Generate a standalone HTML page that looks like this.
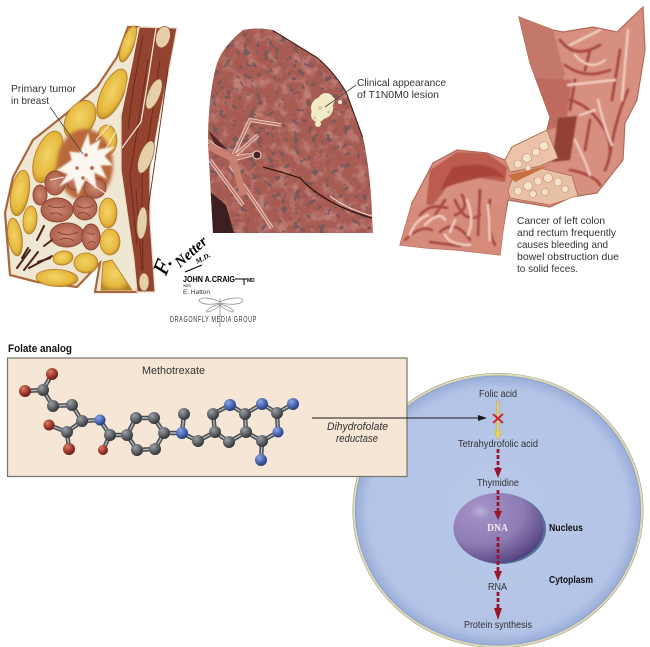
<!DOCTYPE html>
<html><head><meta charset="utf-8"><style>
html,body{margin:0;padding:0;background:#fff}
svg{display:block}
text{font-family:"Liberation Sans",sans-serif;fill:#333;font-size:10.5px}
.b{font-weight:bold;fill:#111}
</style></head><body>
<svg width="650" height="647" viewBox="0 0 650 647" xmlns="http://www.w3.org/2000/svg">
<defs>
<radialGradient id="cell" cx="50%" cy="50%" r="50%"><stop offset="0" stop-color="#b9c8e9"/><stop offset=".9" stop-color="#b3c4e6"/><stop offset=".98" stop-color="#9cb0da"/><stop offset="1" stop-color="#8297c8"/></radialGradient>
<radialGradient id="nuc" cx="30%" cy="26%" r="80%"><stop offset="0" stop-color="#bcaed6"/><stop offset=".14" stop-color="#9f8ec2"/><stop offset=".6" stop-color="#8d7bb4"/><stop offset=".9" stop-color="#64528f"/><stop offset="1" stop-color="#4f4080"/></radialGradient>
<radialGradient id="c" cx="35%" cy="30%" r="70%"><stop offset="0" stop-color="#9aa0a6"/><stop offset=".6" stop-color="#5d6266"/><stop offset="1" stop-color="#33373a"/></radialGradient>
<radialGradient id="n" cx="35%" cy="30%" r="70%"><stop offset="0" stop-color="#8ea6e6"/><stop offset=".6" stop-color="#4a68b4"/><stop offset="1" stop-color="#2a3f78"/></radialGradient>
<radialGradient id="o" cx="35%" cy="30%" r="70%"><stop offset="0" stop-color="#d5806c"/><stop offset=".6" stop-color="#a23a2c"/><stop offset="1" stop-color="#6a1f16"/></radialGradient>
<radialGradient id="fat" cx="45%" cy="45%" r="60%"><stop offset="0" stop-color="#f2d468"/><stop offset=".7" stop-color="#e6b83e"/><stop offset="1" stop-color="#b98624"/></radialGradient>
<radialGradient id="gl" cx="50%" cy="50%" r="55%"><stop offset="0" stop-color="#cf8a70"/><stop offset="1" stop-color="#a85a48"/></radialGradient>
<filter id="spk" x="0" y="0" width="100%" height="100%"><feTurbulence type="fractalNoise" baseFrequency=".16" numOctaves="3" seed="7"/><feColorMatrix values="0 0 0 0 .17  0 0 0 0 .10  0 0 0 0 .11  13 0 0 0 -7.9"/></filter>
<filter id="mot" x="0" y="0" width="100%" height="100%"><feTurbulence type="fractalNoise" baseFrequency=".09" numOctaves="3" seed="3"/><feColorMatrix values="0 0 0 0 .82  0 0 0 0 .55  0 0 0 0 .50  3 0 0 0 -1.35"/></filter>
<filter id="soft"><feGaussianBlur stdDeviation=".7"/></filter>
<filter id="blur1"><feGaussianBlur stdDeviation="1.5"/></filter>
<filter id="blur3"><feGaussianBlur stdDeviation="3"/></filter>
<clipPath id="lungc"><path d="M243 30Q258 27 273 30L317 57Q335 72 347 93L363 137Q371 175 372 217L373 233H213L208 143Q208 95 217 63Q224 45 243 30Z"/></clipPath>
<clipPath id="colc"><path d="M519 17L553 30L563 32L593 27L617 32L643 7L645 50L637 100L625 123L623 160L597 193L572 197L550 207L508 200L503 230L500 255L457 250L427 248L400 245L412 203L433 163L457 150L487 153L505 160L512 147L547 130L550 117L530 63Z"/></clipPath>
</defs>
<rect width="650" height="647" fill="#fff"/>

<!-- Breast -->
<path d="M128 27L139 27L137 292H95L100 263L77 287L37 282L10 275L5 213L13 177L33 140L67 113L97 87L117 57Z" fill="#efe7d2" stroke="#a8683c" stroke-width="2.2"/>
<g stroke="#b17a2c" stroke-width=".8" fill="url(#fat)">
<ellipse cx="128" cy="44" rx="6" ry="19" transform="rotate(20 128 44)"/>
<ellipse cx="112" cy="94" rx="11" ry="27" transform="rotate(25 112 94)"/>
<ellipse cx="80" cy="120" rx="14" ry="21" transform="rotate(30 80 120)"/>
<ellipse cx="48" cy="157" rx="13" ry="27" transform="rotate(20 48 157)"/>
<ellipse cx="20" cy="193" rx="9" ry="23" transform="rotate(10 20 193)"/>
<ellipse cx="30" cy="220" rx="7" ry="14" transform="rotate(5 30 220)"/>
<ellipse cx="15" cy="237" rx="7" ry="19" transform="rotate(-8 15 237)"/>
<ellipse cx="108" cy="213" rx="9" ry="15"/>
<ellipse cx="110" cy="242" rx="10" ry="13"/>
<ellipse cx="86" cy="263" rx="12" ry="10"/>
<ellipse cx="63" cy="258" rx="10" ry="7" transform="rotate(-10 63 258)"/>
<ellipse cx="57" cy="278" rx="21" ry="8.500" transform="rotate(3 57 278)"/>
<path d="M101 290L103 262L112 260L132 290Z"/>
<ellipse cx="107" cy="140" rx="10" ry="15"/>
</g>
<ellipse cx="85" cy="165" rx="28" ry="36" fill="#b9693c" filter="url(#blur1)"/>
<g stroke="#8a4634" stroke-width=".9" fill="url(#gl)">
<ellipse cx="40" cy="195" rx="7" ry="10"/>
<ellipse cx="55" cy="183" rx="10" ry="12"/>
<ellipse cx="57" cy="210" rx="16" ry="12"/>
<ellipse cx="85" cy="208" rx="12" ry="12"/>
<ellipse cx="67" cy="235" rx="17" ry="12"/>
<ellipse cx="91" cy="237" rx="9" ry="13"/>
<ellipse cx="75" cy="180" rx="9" ry="10"/>
<ellipse cx="95" cy="188" rx="11" ry="10"/>
</g>
<g fill="none" stroke="#7c3d2c" stroke-width=".8">
<path d="M48 205q8 5 18 1M50 214q7-3 13 2M76 205q8 6 18 0M78 214q5-4 12 2M58 232q8 5 20 0M60 240q6-4 14 1M87 232q5 4 8 1M88 243q4-3 7 0"/>
</g>
<g filter="url(#soft)"><path d="M88 134L90 146L100 140L97 150L114 147L104 156L112 165L100 165L106 178L94 172L96 188L86 178L78 194L74 178L60 186L68 174L58 170L72 160L70 152L80 153Z" fill="#fbf7f0" stroke="#f2e4d6" stroke-width="1"/></g>
<g fill="#bb6f52"><circle cx="86" cy="155" r="1.800"/><circle cx="77" cy="168" r="1.800"/><circle cx="92" cy="168" r="2"/><circle cx="83" cy="178" r="1.800"/></g>
<g stroke="#f6f0e4" stroke-width="1" fill="none"><path d="M96 140L110 124M104 152L118 128M86 180L115 200M64 177L50 180"/></g>
<g stroke="#4a2218" stroke-width="2" fill="none" stroke-linecap="round"><path d="M17 268L30 250M24 270L38 252M29 268L52 256M22 258L28 248M37 240L44 226M44 246L52 240M38 262L50 258"/></g>
<!-- muscle -->
<path d="M139 27L177 28L170 65L160 115L150 170L150 220L155 292H137L134 260L121 170L121 115L130 70Z" fill="#93432e" stroke="#e9e0cc" stroke-width="1.200"/>
<g fill="none" stroke="#6a2a1b" stroke-width=".9"><path d="M143 35L133 90L128 130M148 60L138 125L130 175L137 245M136 190L142 270M160 60L152 115L142 180L143 270M168 70L158 140L148 210"/></g>
<path d="M156 28L148 80L141 122L122 148M139 27L131 68L121 115" fill="none" stroke="#f3ecdc" stroke-width="1.200"/>
<g fill="#e4cfa8" stroke="#8f5c36" stroke-width=".7">
<ellipse cx="163" cy="37" rx="7" ry="11" transform="rotate(15 163 37)"/>
<ellipse cx="154" cy="94" rx="6" ry="16" transform="rotate(22 154 94)"/>
<ellipse cx="146" cy="157" rx="6.500" ry="17" transform="rotate(20 146 157)"/>
<ellipse cx="142" cy="223" rx="5" ry="16" transform="rotate(5 142 223)"/>
<ellipse cx="144" cy="282" rx="5" ry="9"/>
</g>
<text x="11" y="92" textLength="65" lengthAdjust="spacingAndGlyphs">Primary tumor</text>
<text x="11" y="104" textLength="38" lengthAdjust="spacingAndGlyphs">in breast</text>
<line x1="50" y1="107" x2="83" y2="154" stroke="#444" stroke-width=".8"/>

<!-- Lung -->
<g clip-path="url(#lungc)">
<rect x="205" y="25" width="172" height="210" fill="#a85b52"/>
<rect x="205" y="25" width="172" height="210" filter="url(#mot)" opacity=".35"/>
<rect x="205" y="25" width="172" height="210" filter="url(#spk)" opacity=".9"/>
<path d="M208 190L226 205L234 233H208Z" fill="#3d1f22"/>
<path d="M208 130L228 150L215 145Z" fill="#35191b" opacity=".8"/>
<path d="M263 167Q282 172 300 178Q325 205 372 218" fill="none" stroke="#3c1410" stroke-width="1.300"/>
<path d="M330 196Q345 208 372 216" fill="none" stroke="#efe4dc" stroke-width="1"/>
<path d="M206 140L232 158L248 155M232 158L250 120L281 125M232 158L258 135M232 160L258 153M230 165L272 228M210 160L243 205" fill="none" stroke="#efdcd0" stroke-width="3.600"/>
<path d="M206 140L232 158L248 155M232 158L250 120L281 125M232 158L258 135M232 160L258 153M230 165L272 228M210 160L243 205" fill="none" stroke="#c07a6c" stroke-width="2"/>
<path d="M208 146L232 158L244 195" fill="none" stroke="#c97f72" stroke-width="7"/>
<circle cx="257" cy="155" r="4" fill="#4a2420" stroke="#e9d8cc"/>
<path d="M273 30L317 57Q335 72 347 93L363 137" fill="none" stroke="#3c1810" stroke-width="2"/>
</g>
<g fill="#f2ebc8"><circle cx="322" cy="108" r="11"/><circle cx="318" cy="115" r="7"/><circle cx="326" cy="101" r="8"/><circle cx="318" cy="124" r="3"/><circle cx="332" cy="100" r="3"/><circle cx="340" cy="102" r="2"/><circle cx="328" cy="97" r="2.500"/></g>
<g fill="#d9b98c" opacity=".7"><circle cx="320" cy="108" r="2"/><circle cx="329" cy="112" r="1.600"/><circle cx="315" cy="118" r="1.600"/></g>
<line x1="356" y1="85" x2="325" y2="107" stroke="#444" stroke-width=".8"/>
<text x="357" y="86" textLength="89" lengthAdjust="spacingAndGlyphs">Clinical appearance</text>
<text x="357" y="98" textLength="82" lengthAdjust="spacingAndGlyphs">of T1N0M0 lesion</text>

<!-- Signature -->
<g transform="translate(166 276) rotate(-68)"><text style="font-family:'Liberation Serif',serif;font-style:italic;font-size:22px;fill:#000" x="0" y="0" stroke="#000" stroke-width=".4">F.</text></g>
<g transform="translate(180 268) rotate(-42)"><text style="font-family:'Liberation Serif',serif;font-style:italic;font-weight:bold;font-size:15px;fill:#000" x="0" y="0" textLength="38" lengthAdjust="spacingAndGlyphs">Netter</text></g>
<g transform="translate(197 264) rotate(-28)"><text style="font-family:'Liberation Serif',serif;font-style:italic;font-weight:bold;font-size:7px;fill:#000" x="0" y="0" textLength="16" lengthAdjust="spacingAndGlyphs">M.D.</text></g>
<path d="M185 272L202 265" stroke="#000" stroke-width="1"/>
<text x="183" y="282" class="b" style="font-size:8px;fill:#000" textLength="52" lengthAdjust="spacingAndGlyphs">JOHN A.CRAIG</text>
<path d="M235 279H244V285M244 279H247" stroke="#000" stroke-width="1" fill="none"/>
<text x="247" y="282" class="b" style="font-size:5px;fill:#000">MD</text>
<text x="183" y="287" style="font-size:4.500px" fill="#444">with</text>
<text x="183" y="294" style="font-size:6.500px" fill="#333" textLength="27" lengthAdjust="spacingAndGlyphs">E. Hatton</text>
<g fill="none" stroke="#888" stroke-width=".7"><path d="M220 302C210 297 200 297 199 300C200 305 212 305 220 303M220 302C230 297 242 297 243 300C242 305 230 305 220 303M220 304C212 306 204 311 207 312C211 312 217 308 220 305M220 304C228 306 236 311 233 312C229 312 223 308 220 305M220 298V327"/></g>
<text x="170" y="322" style="font-size:8.500px;letter-spacing:1px" fill="#333" textLength="87" lengthAdjust="spacingAndGlyphs">DRAGONFLY MEDIA GROUP</text>

<!-- Colon -->
<path d="M519 17L553 30L563 32L593 27L617 32L643 7L645 50L637 100L625 123L623 160L597 193L572 197L550 207L508 200L503 230L500 255L457 250L427 248L400 245L412 203L433 163L457 150L487 153L505 160L512 147L547 130L550 117L530 63Z" fill="#d7907f" stroke="#b36a58" stroke-width="1.200"/>
<g clip-path="url(#colc)">
<g filter="url(#soft)">
<path d="M519 17L553 30L565 75L548 110Q535 85 530 63Z" fill="#c4786a"/>
<path d="M535 78L572 80L566 125L547 130Z" fill="#bf6a5e"/>
<path d="M558 118L577 116L570 160L552 162Z" fill="#933f36"/>
<path d="M430 170L457 152L487 153L507 167L505 182L480 178L448 186L425 215Z" fill="#bb5b50"/>
<path d="M452 168Q490 158 505 178Q480 172 440 190Z" fill="#a84438"/>
<rect x="400" y="205" width="105" height="52" fill="#d58a7a"/>
<g fill="none" stroke="#a94a42" stroke-width="2.800" stroke-linecap="round">
<path d="M565 65Q585 80 610 70M590 50L585 70M570 100Q590 105 605 130M590 120L585 150M605 130Q615 150 605 170M570 170Q595 175 600 185M620 50L612 100M560 40Q575 60 600 45M575 80L570 110M628 90Q615 120 610 155"/>
<path d="M420 215Q430 203 447 208M455 200Q465 225 480 215M440 232Q455 218 470 240M480 190L478 235M490 200Q485 225 495 245M430 242L460 246M462 195Q470 210 455 215M405 240Q420 225 432 230M445 200L435 215"/>
</g>
<g fill="none" stroke="#f0cdbf" stroke-width="2.400" stroke-linecap="round">
<path d="M575 55Q590 72 605 60M628 30L622 100M568 85L615 80M598 100Q605 130 612 145M575 140Q585 160 590 175M600 30Q590 35 570 45M580 115L595 110"/>
<path d="M425 225Q440 210 445 220M467 200Q475 220 468 235M488 205L490 240M445 235Q450 245 470 245M410 235Q415 220 428 215M455 220L450 232"/>
</g>
</g>
<path d="M505 160L512 147L547 130L558 158L540 166L510 172Z" fill="#eac3a8" stroke="#ad6a50" stroke-width=".8"/>
<path d="M508 190L512 180L540 168L572 176L578 196L550 205L510 198Z" fill="#e8c0a5" stroke="#ad6a50" stroke-width=".8"/>
<g fill="#f5e2cd" stroke="#c58c6e" stroke-width=".6"><circle cx="518" cy="164" r="4"/><circle cx="527" cy="158" r="4.500"/><circle cx="536" cy="152" r="4"/><circle cx="544" cy="146" r="4.500"/><circle cx="528" cy="168" r="3"/><circle cx="518" cy="191" r="4"/><circle cx="528" cy="186" r="4.500"/><circle cx="538" cy="181" r="4"/><circle cx="548" cy="178" r="4.500"/><circle cx="558" cy="182" r="4"/><circle cx="545" cy="192" r="3.500"/><circle cx="565" cy="189" r="3.500"/><circle cx="533" cy="194" r="3.500"/></g>
<path d="M508 175L522 172L550 165L515 182Z" fill="#c7713f"/>
</g>
<g>
<text x="517" y="224" textLength="88" lengthAdjust="spacingAndGlyphs">Cancer of left colon</text>
<text x="517" y="236" textLength="99" lengthAdjust="spacingAndGlyphs">and rectum frequently</text>
<text x="517" y="248" textLength="91" lengthAdjust="spacingAndGlyphs">causes bleeding and</text>
<text x="517" y="260" textLength="102" lengthAdjust="spacingAndGlyphs">bowel obstruction due</text>
<text x="517" y="272" textLength="61" lengthAdjust="spacingAndGlyphs">to solid feces.</text>
</g>

<!-- Cell -->
<ellipse cx="498" cy="510.500" rx="144" ry="136" fill="url(#cell)" stroke="#e3dcae" stroke-width="1.800"/>
<ellipse cx="498" cy="510.500" rx="145.200" ry="137.200" fill="none" stroke="#9a9c92" stroke-width=".6"/>
<ellipse cx="501" cy="529" rx="45" ry="35" fill="#557199"/>
<ellipse cx="498.500" cy="528" rx="45" ry="35" fill="url(#nuc)"/>

<!-- Box -->
<rect x="7.500" y="358" width="399.500" height="118.500" fill="#f5e6d5" stroke="#75766a" stroke-width="1.200"/>
<text x="8" y="352" class="b" style="font-size:11px" textLength="64" lengthAdjust="spacingAndGlyphs">Folate analog</text>
<text x="142" y="374" textLength="63" lengthAdjust="spacingAndGlyphs" style="font-size:11px">Methotrexate</text>
<text x="327" y="430" textLength="61" lengthAdjust="spacingAndGlyphs" style="font-style:italic;font-size:11px">Dihydrofolate</text>
<text x="336" y="442" textLength="42" lengthAdjust="spacingAndGlyphs" style="font-style:italic;font-size:11px">reductase</text>

<!-- bonds -->
<g fill="none" stroke="#4a4e52" stroke-width="4.400">
<path d="M25 391L43 390L52 374M43 390L53 406L72 405L82 421L100 420L110 435L127 435L136 418L154 418L164 433L155 449L137 450L127 435M82 421L67 432L49 425M67 432L69 449M110 435L103 450M164 433L182 433L184 414M182 433L198 441L215 432L213 414L230 405L245 414L246 432L229 442L215 432M245 414L262 404L277 413L293 404M277 413L278 432L262 441L246 432M262 441L261 460"/>
</g>
<g fill="none" stroke="#b5b9bb" stroke-width="1.400">
<path d="M25 391L43 390L52 374M43 390L53 406L72 405L82 421L100 420L110 435L127 435L136 418L154 418L164 433L155 449L137 450L127 435M82 421L67 432L49 425M67 432L69 449M110 435L103 450M164 433L182 433L184 414M182 433L198 441L215 432L213 414L230 405L245 414L246 432L229 442L215 432M245 414L262 404L277 413L293 404M277 413L278 432L262 441L246 432M262 441L261 460"/>
</g>
<!-- atoms -->
<g fill="url(#o)"><circle cx="52" cy="374" r="6"/><circle cx="25" cy="391" r="6"/><circle cx="49" cy="425" r="5.500"/><circle cx="69" cy="449" r="6"/><circle cx="103" cy="450" r="5"/></g>
<g fill="url(#c)">
<circle cx="43" cy="390" r="6"/><circle cx="53" cy="406" r="6"/><circle cx="72" cy="405" r="6"/><circle cx="82" cy="421" r="6"/><circle cx="67" cy="432" r="6"/><circle cx="110" cy="435" r="6"/><circle cx="127" cy="435" r="6"/><circle cx="136" cy="418" r="6"/><circle cx="154" cy="418" r="6"/><circle cx="164" cy="433" r="6"/><circle cx="155" cy="449" r="6"/><circle cx="137" cy="450" r="6"/><circle cx="184" cy="414" r="6"/><circle cx="198" cy="441" r="6"/><circle cx="215" cy="432" r="6"/><circle cx="213" cy="414" r="6"/><circle cx="245" cy="414" r="6"/><circle cx="246" cy="432" r="6"/><circle cx="229" cy="442" r="6"/><circle cx="277" cy="413" r="6"/><circle cx="262" cy="441" r="6"/>
</g>
<g fill="url(#n)"><circle cx="100" cy="420" r="5.500"/><circle cx="182" cy="433" r="6"/><circle cx="230" cy="405" r="6"/><circle cx="262" cy="404" r="6"/><circle cx="293" cy="404" r="6"/><circle cx="278" cy="432" r="5.500"/><circle cx="261" cy="460" r="6"/></g>

<!-- pathway -->
<rect x="496.200" y="401" width="3.600" height="31" fill="#dccb8c" stroke="#a9a27a" stroke-width=".5"/>
<path d="M494.500 431H501.500L498 440Z" fill="#f0d350" stroke="#b9a33f" stroke-width=".4"/>
<line x1="312" y1="418" x2="482" y2="418" stroke="#1a1a1a" stroke-width="1.100"/>
<path d="M487 418L478 415V421Z" fill="#1a1a1a"/>
<path d="M493 414L503 423M503 414L493 423" stroke="#cc2a35" stroke-width="2" fill="none"/>
<g stroke="#99162a" stroke-width="2.800" stroke-dasharray="4 2" fill="none">
<line x1="498" y1="449" x2="498" y2="470"/>
<line x1="498" y1="490" x2="498" y2="513"/>
<line x1="498" y1="537" x2="498" y2="573"/>
<line x1="498" y1="592" x2="498" y2="610"/>
</g>
<g fill="#99162a" stroke="none">
<path d="M494 468H502L498 478Z"/>
<path d="M494 511H502L498 520Z"/>
<path d="M494 571H502L498 581Z"/>
<path d="M494 608H502L498 620Z"/>
</g>
<text x="479" y="397" textLength="38" lengthAdjust="spacingAndGlyphs">Folic acid</text>
<text x="458" y="447" textLength="80" lengthAdjust="spacingAndGlyphs">Tetrahydrofolic acid</text>
<text x="477" y="486" textLength="42" lengthAdjust="spacingAndGlyphs">Thymidine</text>
<text x="487" y="531" textLength="21" lengthAdjust="spacingAndGlyphs" style="font-family:'Liberation Serif',serif;font-weight:bold;fill:#efe9f4;font-size:11px">DNA</text>
<text x="549" y="531" class="b" textLength="34" lengthAdjust="spacingAndGlyphs">Nucleus</text>
<text x="549" y="583" class="b" textLength="44" lengthAdjust="spacingAndGlyphs">Cytoplasm</text>
<text x="488" y="590" textLength="19" lengthAdjust="spacingAndGlyphs">RNA</text>
<text x="464" y="628" textLength="68" lengthAdjust="spacingAndGlyphs">Protein synthesis</text>
</svg>
</body></html>
